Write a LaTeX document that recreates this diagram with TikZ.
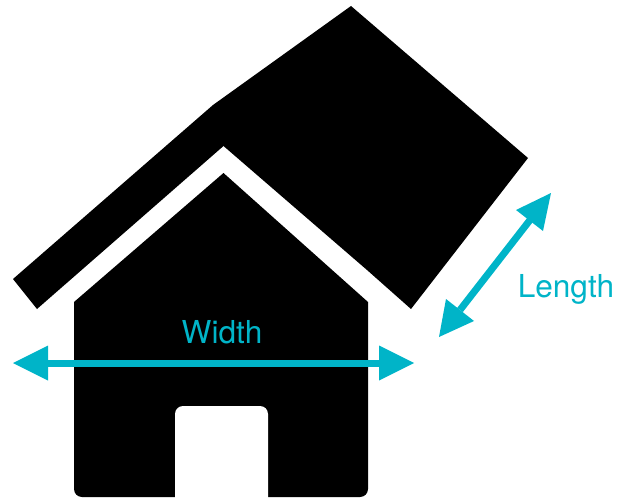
\documentclass[tikz,border=0pt]{standalone}
\usepackage{fontspec}
\setmainfont{TeX Gyre Heros}
\definecolor{teal1}{HTML}{00B4C8}
\tikzset{dimline/.style={teal1,line width=7pt},
head/.style={fill=teal1,draw=none},
lab/.style={text=teal1,font=\fontsize{31.6pt}{34pt}\selectfont,inner sep=0pt,anchor=base}}
\begin{document}
\begin{tikzpicture}[x=1pt,y=-1pt]
\useasboundingbox (0,0) rectangle (621,500);
\fill[black] (13,279) -- (213,105) -- (351,6) -- (528,158) -- (411,309) -- (367,270) -- (223.5,146) -- (37,309) -- cycle;
\fill[black] (74,302) -- (223.5,173) -- (368,302) -- (368,489) .. controls (368,493.4) and (364.4,497) .. (360,497) -- (82,497) .. controls (77.6,497) and (74,493.4) .. (74,489) -- cycle;
\fill[white] (175,500) -- (175,414) .. controls (175,409.6) and (178.6,406) .. (183,406) -- (260,406) .. controls (264.4,406) and (268,409.6) .. (268,414) -- (268,500) -- cycle;
\coordinate (wl) at (13,363); \coordinate (wr) at (414,363);
\coordinate (ll) at (439,337); \coordinate (lr) at (551,193);
\coordinate (wla) at (48,363); \coordinate (wra) at (379,363);
\coordinate (lla) at (460,310); \coordinate (lra) at (530,220);
\draw[dimline] (wla) -- (wra);
\fill[head] (wl) -- (48,345.5) -- (48,380.5) -- cycle;
\fill[head] (wr) -- (379,345.5) -- (379,380.5) -- cycle;
\draw[dimline] (lla) -- (lra);
\fill[head] (ll) -- (446,299) -- (474,321) -- cycle;
\fill[head] (lr) -- (516,210) -- (543,231) -- cycle;
\node[lab] (w) at (222,343) {Width};
\node[lab] (l) at (566,297) {Length};
\end{tikzpicture}
\end{document}
